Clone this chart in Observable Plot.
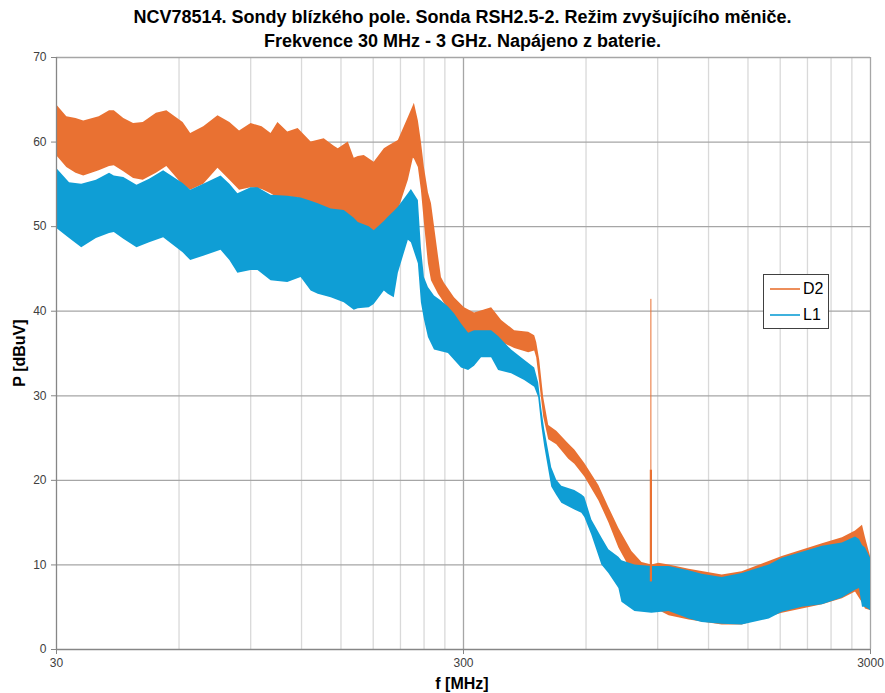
<!DOCTYPE html>
<html>
<head>
<meta charset="utf-8">
<script src="https://cdn.jsdelivr.net/npm/d3@7"></script>
<script src="https://cdn.jsdelivr.net/npm/@observablehq/plot@0.6"></script>
<style>
  body { margin: 0; background: #fff; font-family: "Liberation Sans", Arial, sans-serif; }
  #wrap { position: relative; width: 885px; height: 693px; }
  #title { box-sizing: border-box; width: 885px; padding-left: 40px; height: 50px; padding-top: 5px;
           text-align: center; font-weight: bold; font-size: 18px; line-height: 24px; color: #000; }
  #legend { position: absolute; left: 763px; top: 274px; width: 66px; height: 55px; box-sizing: border-box;
            border: 1px solid #404040; background: #fff; font-size: 16px; color: #000; }
  .li { position: absolute; left: 6px; height: 20px; display: flex; align-items: center; }
  .li svg { margin-right: 3px; }
  #ylab { position: absolute; left: 20px; top: 353px; transform: translate(-50%, -50%) rotate(-90deg);
          font-weight: bold; font-size: 16px; white-space: nowrap; color: #000; }
  #xlab { position: absolute; left: 462px; top: 684px; transform: translate(-50%, -50%);
          font-weight: bold; font-size: 16px; white-space: nowrap; color: #000; }
</style>
</head>
<body>
<div id="wrap">
  <div id="title">NCV78514. Sondy blízkého pole. Sonda RSH2.5-2. Režim zvyšujícího měniče.<br>Frekvence 30 MHz - 3 GHz. Napájeno z baterie.</div>
  <div id="chart"></div>
  <div id="legend"></div>
  <div id="ylab">P [dBuV]</div>
  <div id="xlab">f [MHz]</div>
</div>
<script>
// ---- data ----
const seriesNames = ["D2", "L1"];
const seriesColors = ["#E97132", "#0F9ED5"];

// D2 envelope: frequency [MHz], lower and upper level [dBuV]
const d2Freq = [30, 31.8, 33.5, 35.0, 38.2, 40.5, 41.6, 43.9, 46.4, 49.0, 52.8, 56.0, 61.4, 64.1, 69, 74.8, 80, 84.5, 90.2, 96, 101, 105, 111, 117.7, 126.7, 136.4, 144.4, 147.7, 156.3, 161.7, 165.4, 171.1, 181, 191.7, 196, 207.5, 219.6, 225.9, 227.2, 232.4, 236.4, 240.5, 246, 250.3, 260.4, 264.8, 269.4, 285.1, 301.7, 319.3, 336, 351.7, 372.3, 400.8, 433.8, 448.8, 453.9, 461.7, 472.2, 485.9, 508.5, 544.2, 563.1, 595.9, 645.1, 682.8, 722.6, 777.9, 823.4, 871, 906, 960, 1075, 1296, 1451, 1821, 2286, 2559, 2756, 2867, 2916, 3000];
const d2Lo = [58.4, 57.0, 56.3, 56.0, 56.6, 57.1, 57.2, 56.5, 55.7, 55.5, 56.3, 57.1, 54.9, 54.3, 55.0, 56.9, 55.5, 54.3, 54.6, 54.4, 53.9, 53.4, 53.5, 53.4, 52.3, 51.8, 51.3, 51.2, 50.8, 50.5, 50.4, 49.8, 49.3, 50.3, 50.4, 51.9, 55.5, 58.1, 58.0, 57.0, 54.3, 50.4, 45.6, 43.6, 42.0, 41.5, 40.9, 39.3, 37.5, 36.5, 37.0, 37.4, 36.3, 35.6, 35.1, 35.3, 34.5, 31.5, 27.5, 24.8, 24.2, 22.5, 21.9, 20.4, 17.6, 15.0, 12.0, 9.2, 7.0, 4.8, 4.6, 4.0, 3.5, 2.9, 2.9, 4.3, 5.3, 6.0, 6.8, 5.5, 4.8, 4.6];
const d2Hi = [64.4, 63.0, 62.8, 62.5, 63.0, 63.7, 63.7, 62.8, 62.2, 62.3, 63.4, 63.7, 62.3, 61.0, 61.8, 63.1, 62.3, 61.3, 62.2, 61.8, 61.0, 62.3, 61.2, 61.6, 60.0, 60.4, 59.5, 59.2, 60.0, 58.1, 58.3, 58.4, 57.6, 59.2, 59.5, 60.2, 62.9, 64.3, 64.6, 62.5, 60.0, 57.0, 54.0, 52.7, 46.5, 44.0, 43.3, 41.6, 40.4, 39.8, 40.1, 40.4, 38.9, 37.7, 37.5, 37.1, 36.3, 34.2, 29.8, 26.5, 25.8, 24.3, 23.6, 22.0, 19.4, 16.8, 14.3, 11.6, 10.3, 10.0, 10.2, 10.0, 9.5, 8.8, 9.2, 11.0, 12.5, 13.2, 14.0, 14.7, 13.2, 11.0];

// narrow spike in D2 near 866 MHz
const spikeFreq = [866, 866];
const spikeLo = [8.0, 8.0];
const spikeHi = [41.4, 21.2];
const spikeWidth = [1, 2.2];

// L1 envelope
const l1Freq = [30, 32.3, 34.6, 37.6, 40.5, 41.6, 43.9, 47.3, 50.8, 55.0, 61.4, 64.1, 69, 76.1, 80, 83.7, 90.2, 93.8, 101, 111, 119.7, 126.7, 131.9, 141.9, 152.8, 161.7, 165.4, 176, 181, 191.7, 196, 202.8, 207.5, 219.6, 223.4, 232.4, 236.4, 240.5, 246, 254.6, 264.8, 275.5, 285.1, 296.6, 308.8, 319.3, 332.2, 351.7, 365.9, 393.9, 424, 448.8, 459, 466.9, 474.9, 494.2, 508.5, 523.2, 563.1, 585.9, 595.9, 620.1, 656.2, 682.8, 722.6, 735.1, 791.3, 871, 960, 1075, 1157, 1296, 1451, 1692, 1821, 2040, 2286, 2559, 2756, 2819, 2867, 2916, 3000];
const l1Lo = [49.8, 48.6, 47.5, 48.6, 49.2, 49.3, 48.5, 47.5, 48.1, 48.7, 46.9, 46.0, 46.5, 47.2, 46.0, 44.5, 44.8, 44.8, 43.6, 43.4, 44.0, 42.4, 42.0, 41.6, 41.0, 40.1, 40.3, 40.4, 40.8, 42.4, 42.0, 41.6, 44.5, 48.4, 48.1, 45.6, 41.0, 39.0, 36.9, 35.4, 35.2, 35.0, 34.2, 33.3, 33.0, 33.5, 34.5, 34.5, 33.0, 32.6, 31.8, 31.0, 29.8, 26.5, 24.0, 19.2, 18.2, 17.3, 16.5, 16.1, 15.6, 13.5, 10.0, 9.0, 7.2, 5.6, 4.5, 4.3, 4.5, 3.6, 3.2, 3.0, 2.9, 3.6, 4.4, 5.0, 5.3, 6.1, 7.0, 7.2, 5.0, 5.0, 4.6];
const l1Hi = [56.9, 55.2, 55.0, 55.5, 56.3, 56.0, 55.8, 54.9, 55.6, 56.6, 55.1, 54.3, 55.0, 56.0, 55.0, 53.9, 54.6, 54.6, 53.7, 53.6, 53.4, 53.0, 52.7, 52.1, 51.9, 51.0, 50.5, 50.0, 49.5, 50.6, 51.1, 51.8, 52.3, 53.9, 54.4, 53.1, 47.5, 44.0, 42.8, 41.8, 41.2, 40.5, 39.7, 38.5, 37.4, 37.7, 37.7, 37.7, 37.0, 35.4, 34.2, 33.3, 31.5, 28.5, 26.0, 21.5, 20.0, 19.3, 18.8, 18.3, 18.0, 15.3, 13.2, 11.8, 10.9, 10.5, 10.0, 9.8, 9.8, 9.3, 8.9, 8.5, 9.0, 10.0, 10.8, 11.5, 12.2, 12.6, 13.3, 13.0, 12.3, 12.0, 10.8];

// axes / grid
const xTicks = [30, 300, 3000];
const xMinor = [60, 90, 120, 150, 180, 210, 240, 270, 600, 900, 1200, 1500, 1800, 2100, 2400, 2700];
const xMajor = [300, 3000];
const yTicks = [0, 10, 20, 30, 40, 50, 60, 70];

// ---- tables ----
const d2 = d2Freq.map((f, i) => ({f, lo: d2Lo[i], hi: d2Hi[i]}));
const l1 = l1Freq.map((f, i) => ({f, lo: l1Lo[i], hi: l1Hi[i]}));
const spike = spikeFreq.map((f, i) => ({f, lo: spikeLo[i], hi: spikeHi[i], w: spikeWidth[i]}));

const chart = Plot.plot({
  width: 885,
  height: 643,
  marginLeft: 56,
  marginRight: 15,
  marginTop: 7,
  marginBottom: 44,
  style: {fontFamily: "'Liberation Sans', Arial, sans-serif", fontSize: "12px", background: "#fff"},
  x: {type: "log", domain: [30, 3000]},
  y: {domain: [0, 70]},
  marks: [
    Plot.ruleX(xMinor, {stroke: "#d9d9d9", strokeWidth: 1.3}),
    Plot.ruleY(yTicks.filter(d => d > 0), {stroke: "#a6a6a6", strokeWidth: 1.3}),
    Plot.ruleX(xMajor, {stroke: "#a6a6a6", strokeWidth: 1.3}),
    Plot.areaY(d2, {x: "f", y1: "lo", y2: "hi", fill: seriesColors[0]}),
    Plot.areaY(l1, {x: "f", y1: "lo", y2: "hi", fill: seriesColors[1]}),
    Plot.ruleX(spike, {x: "f", y1: "lo", y2: "hi", stroke: seriesColors[0], strokeWidth: "w"}),
    Plot.ruleX([30], {stroke: "#868686", strokeWidth: 1.3}),
    Plot.ruleY([0], {stroke: "#868686", strokeWidth: 1.3}),
    Plot.axisX({ticks: xTicks, tickFormat: d => String(d), tickSize: 5, tickPadding: 4, stroke: "#868686", fill: "#404040", label: null}),
    Plot.axisY({ticks: yTicks, tickFormat: d => String(d), tickSize: 5, tickPadding: 5, stroke: "#868686", fill: "#404040", label: null})
  ]
});
document.getElementById("chart").appendChild(chart);

// legend built from the series names / colours
const legend = document.getElementById("legend");
seriesNames.forEach((name, i) => {
  const row = document.createElement("div");
  row.className = "li";
  row.style.top = (4 + i * 26) + "px";
  row.innerHTML = `<svg width="30" height="4"><line x1="0" x2="30" y1="2" y2="2" stroke="${seriesColors[i]}" stroke-width="1.6"/></svg>${name}`;
  legend.appendChild(row);
});
</script>
</body>
</html>
